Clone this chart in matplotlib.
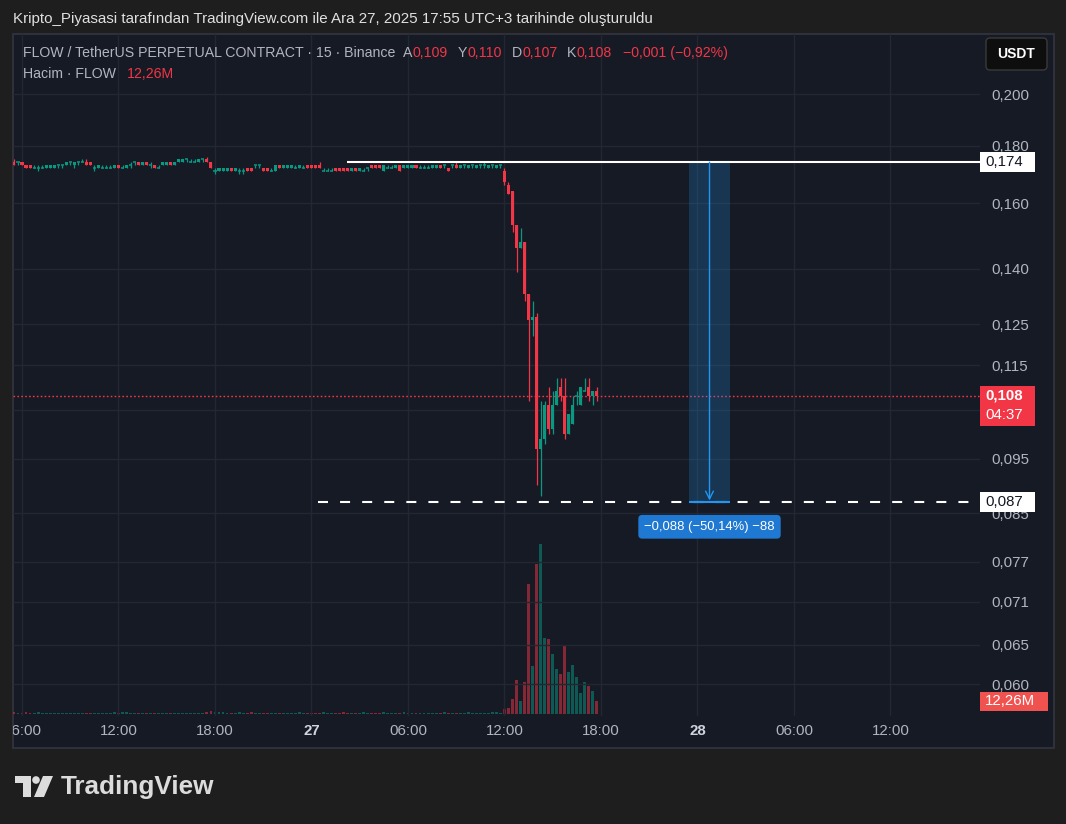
import matplotlib
matplotlib.use("Agg")
import numpy as np
import matplotlib.pyplot as plt
from matplotlib.patches import Rectangle, FancyBboxPatch, Polygon, Circle
from matplotlib.transforms import IdentityTransform, blended_transform_factory
from matplotlib.ticker import NullLocator

plt.rcParams['font.family'] = ['Liberation Sans', 'DejaVu Sans']

W, H = 1066, 824

# 15 minute candles, first one at 26 Dec 05:30 (hours counted from 26 Dec 00:00)
start_hour = 5.5
# prices in thousandths of USDT
opens = [174, 174, 174, 173, 173, 172, 172, 172, 172, 172,
         172, 173, 173, 173, 174, 173, 174, 174, 174, 174,
         172, 172, 172, 172, 172, 172, 173, 172, 172, 173,
         174, 174, 173, 174, 173, 173, 172, 173, 173, 174,
         173, 174, 174, 175, 174, 174, 174, 175, 175, 174,
         171, 171, 171, 171, 172, 171, 171, 171, 172, 172,
         173, 173, 172, 172, 171, 171, 173, 172, 172, 172,
         172, 172, 172, 173, 173, 173, 173, 171, 171, 171,
         172, 172, 172, 172, 171, 172, 171, 171, 172, 173,
         173, 173, 171, 172, 172, 172, 173, 172, 172, 172,
         173, 172, 172, 172, 172, 172, 173, 173, 172, 173,
         173, 172, 173, 172, 173, 172, 173, 173, 172, 173,
         172, 173, 171, 166, 164, 153, 146, 148, 133, 126,
         127, 97, 99, 106, 101, 106, 110, 108, 100, 102,
         108, 106, 109, 110, 108, 109]
closes = [173, 174, 173, 172, 172, 172, 172, 172, 173, 173,
          173, 173, 173, 174, 174, 174, 174, 174, 173, 173,
          172, 173, 172, 172, 172, 173, 172, 172, 173, 173,
          174, 173, 174, 173, 173, 172, 172, 174, 174, 173,
          174, 175, 175, 175, 174, 174, 175, 175, 174, 172,
          171, 172, 172, 172, 171, 172, 171, 171, 171, 171,
          173, 173, 171, 171, 171, 173, 172, 173, 173, 173,
          172, 173, 172, 172, 172, 172, 172, 171, 171, 171,
          171, 171, 171, 171, 172, 171, 172, 171, 172, 172,
          172, 172, 173, 172, 172, 173, 171, 173, 173, 173,
          172, 172, 172, 172, 173, 173, 172, 173, 171, 173,
          172, 173, 173, 173, 173, 173, 173, 173, 173, 173,
          173, 173, 167, 163, 153, 146, 148, 133, 126, 127,
          97, 99, 106, 101, 106, 109, 108, 100, 104, 106,
          108, 110, 109, 108, 109, 108]
highs = [175, 174, 174, 173, 173, 173, 173, 173, 173, 173,
         173, 173, 173, 174, 174, 174, 174, 175, 175, 174,
         173, 173, 173, 173, 173, 173, 173, 173, 173, 174,
         174, 174, 174, 174, 174, 173, 173, 174, 174, 174,
         174, 175, 175, 175, 175, 175, 175, 175, 176, 174,
         172, 172, 172, 172, 172, 172, 172, 172, 172, 172,
         173, 173, 172, 172, 172, 173, 173, 173, 173, 173,
         173, 173, 173, 173, 173, 173, 174, 172, 172, 172,
         172, 172, 172, 172, 172, 172, 172, 172, 172, 173,
         173, 173, 173, 173, 173, 173, 173, 173, 173, 173,
         173, 173, 173, 173, 173, 173, 173, 173, 172, 173,
         174, 173, 173, 173, 173, 173, 173, 174, 173, 173,
         173, 173, 172, 167, 164, 153, 152, 148, 133, 131,
         128, 107, 107, 110, 109, 112, 112, 112, 104, 108,
         109, 110, 112, 112, 109, 110]
lows = [173, 173, 173, 172, 172, 172, 171, 172, 172, 172,
        172, 172, 172, 173, 173, 172, 173, 174, 173, 173,
        171, 172, 172, 172, 172, 172, 172, 172, 172, 172,
        173, 173, 173, 173, 172, 172, 172, 173, 173, 173,
        173, 174, 174, 174, 174, 174, 174, 174, 174, 172,
        170, 171, 171, 171, 171, 171, 170, 170, 171, 171,
        172, 172, 171, 171, 171, 171, 172, 172, 172, 172,
        172, 172, 172, 172, 172, 172, 172, 171, 171, 171,
        171, 171, 171, 171, 171, 171, 171, 171, 171, 172,
        172, 172, 171, 172, 172, 172, 171, 172, 172, 172,
        172, 172, 172, 172, 172, 172, 172, 172, 171, 172,
        172, 172, 172, 172, 172, 172, 172, 172, 172, 172,
        172, 172, 166, 163, 151, 139, 146, 131, 107, 122,
        90, 88, 98, 100, 100, 106, 107, 99, 100, 102,
        106, 106, 109, 107, 106, 107]
# volume in millions FLOW
volumes = [1.7, 0.6, 1.0, 2.2, 1.0, 0.7, 1.8, 1.0, 0.8, 0.8,
           0.9, 0.8, 0.9, 0.8, 0.9, 0.8, 1.0, 0.8, 0.9, 0.9,
           0.9, 0.8, 1.0, 0.8, 0.9, 1.7, 1.0, 1.8, 1.9, 0.8,
           0.8, 0.8, 0.9, 0.8, 0.9, 0.8, 0.8, 1.0, 0.8, 0.8,
           0.9, 0.8, 1.0, 0.9, 0.8, 0.9, 0.8, 0.9, 2.2, 3.1,
           1.9, 1.9, 1.9, 0.9, 0.8, 0.8, 1.8, 0.9, 0.8, 1.7,
           0.8, 1.0, 0.9, 0.8, 1.0, 0.9, 1.0, 0.8, 1.1, 0.9,
           0.8, 2.0, 1.0, 0.8, 1.0, 0.8, 0.9, 1.8, 0.8, 1.0,
           0.8, 0.9, 1.7, 0.9, 0.8, 1.0, 0.9, 1.6, 0.8, 1.0,
           0.9, 0.8, 1.9, 0.8, 0.9, 1.0, 0.8, 1.8, 0.9, 0.8,
           0.9, 1.0, 0.8, 0.9, 0.8, 0.9, 1.0, 1.6, 0.9, 0.8,
           1.0, 0.9, 0.8, 1.7, 1.0, 0.8, 0.9, 1.0, 1.2, 1.7,
           1.6, 0.7, 4.5, 5.5, 14.2, 32.5, 12.3, 30.6, 125.2, 46.0,
           144.5, 163.8, 73.0, 72.1, 57.6, 43.1, 38.3, 65.3, 40.2, 47.0,
           35.4, 20.0, 30.6, 26.7, 21.9, 12.26]

price_ticks = [0.060, 0.065, 0.071, 0.077, 0.085, 0.095, 0.105, 0.115,
               0.125, 0.140, 0.160, 0.180, 0.200]
# 0,105 sits under the live price tag, so its label is not shown
price_labels = ["0,060", "0,065", "0,071", "0,077", "0,085", "0,095", "",
                "0,115", "0,125", "0,140", "0,160", "0,180", "0,200"]
time_ticks = [6, 12, 18, 24, 30, 36, 42, 48, 54, 60]
time_labels = ["06:00", "12:00", "18:00", "27", "06:00", "12:00", "18:00",
               "28", "06:00", "12:00"]

level_top = 0.174
level_bottom = 0.087

GREEN = '#089981'
RED = '#f23645'
GRAY = '#b2b5be'
BG = '#161a25'
FS = 10.2

fig = plt.figure(figsize=(W / 100, H / 100), dpi=100, facecolor='#1e1e1e')
renderer = fig.canvas.get_renderer()


def fx(x):
    return x / W


def fy(y):
    return 1 - y / H


def txt(x, y, s, **kw):
    kw.setdefault('va', 'center')
    kw.setdefault('ha', 'left')
    return fig.text(fx(x), fy(y), s, **kw)


def width_px(t):
    return t.get_window_extent(renderer).width


# chart panel
panel = Rectangle((fx(13), fy(748)), fx(1054) - fx(13), fy(34) - fy(748),
                  transform=fig.transFigure, facecolor=BG, edgecolor='#2e313b',
                  lw=1.5, zorder=-10)
fig.add_artist(panel)

ax = fig.add_axes([fx(13), fy(716), fx(980) - fx(13), fy(34) - fy(716)])
ax.set_facecolor('none')
ax.set_yscale('log')
ax.set_ylim(0.05621, 0.22605)
ax.set_xlim(5.44, 65.57)
for s in ax.spines.values():
    s.set_visible(False)
ax.set_yticks(price_ticks)
ax.yaxis.set_minor_locator(NullLocator())
ax.set_yticklabels(price_labels)
ax.yaxis.tick_right()
ax.tick_params(axis='y', length=0, pad=8.5, labelcolor=GRAY, labelsize=10.8)
ax.set_xticks(time_ticks)
ax.set_xticklabels([])
ax.tick_params(axis='x', length=0)
ax.grid(True, color='#232733', lw=1)
ax.set_axisbelow(True)

# volume overlay
vax = fig.add_axes([fx(13), fy(714), fx(980) - fx(13), 200 / H], zorder=-1)
vax.set_facecolor('none')
vax.set_xlim(ax.get_xlim())
vax.set_ylim(0, 193)
vax.axis('off')

t = start_hour + 0.25 * np.arange(len(closes))
o = np.array(opens) / 1000
c = np.array(closes) / 1000
hi = np.array(highs) / 1000
lo = np.array(lows) / 1000
up = c >= o
cols = np.where(up, GREEN, RED)

vax.bar(t, volumes, width=0.18, color=[(GREEN if u else RED) for u in up],
        alpha=0.5, linewidth=0)

ax.vlines(t, lo, hi, colors=cols, lw=0.9, zorder=3)
blo = np.minimum(o, c)
bhi = np.maximum(o, c)
ax.bar(t, bhi - blo, bottom=blo, width=0.19, color=cols, linewidth=0, zorder=4)
doji = o == c
ax.hlines(c[doji], t[doji] - 0.095, t[doji] + 0.095, colors=cols[doji], lw=1.1, zorder=4)

# drawings
ax.hlines(level_top, 26.2, 65.57, colors='white', lw=1.5, zorder=5)
ax.hlines(level_bottom, 24.4, 65.57, colors='white', lw=1.5,
          linestyles=(0, (4.8, 5.8)), zorder=5)
ax.axhline(c[-1], color=RED, lw=1, linestyle=(0, (1.2, 1.6)), zorder=2)

ax.add_patch(Rectangle((47.5, level_bottom), 2.5, level_top - level_bottom,
                       facecolor='#2196f3', alpha=0.22, lw=0, zorder=2))
ax.hlines(level_bottom, 47.5, 50.0, colors='#2196f3', lw=1.5, zorder=6)
ax.annotate('', xy=(48.75, level_bottom * 1.003), xytext=(48.75, level_top),
            arrowprops=dict(arrowstyle='->', color='#2196f3', lw=1,
                            shrinkA=0, shrinkB=0, mutation_scale=14), zorder=6)
ax.text(48.75, 0.0827, "−0,088 (−50,14%) −88", ha='center', va='center',
        color='white', fontsize=9.4,
        bbox=dict(boxstyle='round,pad=0.45,rounding_size=0.3', fc='#1f78d1', ec='none'),
        zorder=7)

# time axis labels
bt = blended_transform_factory(ax.transData, ax.transAxes)
for h_, lab in zip(time_ticks, time_labels):
    bold = lab in ("27", "28")
    tx = ax.text(h_, -0.022, lab, transform=bt, ha='center', va='center',
                 fontsize=10.8, color='#d1d4dc' if bold else GRAY,
                 fontweight='bold' if bold else 'normal', clip_on=True)
    tx.set_clip_path(panel)

# right side price tags
x_edge = ax.bbox.x1


def tag(ydisp, lines, fc, tc, w, h, dy=0):
    fig.add_artist(Rectangle((x_edge, ydisp - h / 2 + dy), w, h,
                             transform=IdentityTransform(), facecolor=fc,
                             edgecolor='none', zorder=5))
    for i, (s, wt) in enumerate(lines):
        fig.text(x_edge + 5, ydisp - i * 19, s, transform=IdentityTransform(),
                 ha='left', va='center', color=tc, fontsize=10.8, fontweight=wt, zorder=6)


tag(ax.transData.transform((30, level_top))[1], [("0,174", 'normal')], 'white', '#131722', 55, 20)
tag(ax.transData.transform((30, level_bottom))[1], [("0,087", 'normal')], 'white', '#131722', 55, 20)
tag(ax.transData.transform((30, c[-1]))[1], [("0,108", 'bold'), ("04:37", 'normal')],
    RED, 'white', 55, 40, dy=-10)
tag(vax.transData.transform((t[-1], volumes[-1]))[1], [("12,26M", 'normal')],
    '#f0524f', 'white', 68, 19)

# USDT button
fig.add_artist(FancyBboxPatch((986, H - 70), 61, 32, boxstyle='round,pad=0,rounding_size=4',
                              transform=IdentityTransform(), facecolor='#0e0e0e',
                              edgecolor='#3a3a3a', lw=1, zorder=5))
fig.text(1016.5, H - 54, "USDT", transform=IdentityTransform(), ha='center', va='center',
         color='white', fontsize=10, fontweight='bold', zorder=6)

# texts
txt(13, 19, "Kripto_Piyasasi tarafından TradingView.com ile Ara 27, 2025 17:55 UTC+3 tarihinde oluşturuldu",
    color='#e0e0e0', fontsize=10.9)
txt(23, 53, "FLOW / TetherUS PERPETUAL CONTRACT · 15 · Binance", color=GRAY, fontsize=FS)
for x_, letter, val in [(403, "A", "0,109"), (458, "Y", "0,110"),
                        (512, "D", "0,107"), (567, "K", "0,108")]:
    lt = txt(x_, 53, letter, color=GRAY, fontsize=FS)
    txt(x_ + width_px(lt) + 0.5, 53, val, color=RED, fontsize=FS)
txt(623, 53, "−0,001 (−0,92%)", color=RED, fontsize=FS)
txt(23, 74, "Hacim · FLOW", color=GRAY, fontsize=FS)
txt(127, 74, "12,26M", color=RED, fontsize=FS)

# TradingView logo
LOGO = '#dcdcdc'
fig.add_artist(Polygon([(15, H - 776), (31, H - 776), (31, H - 797), (23, H - 797),
                        (23, H - 783), (15, H - 783)], closed=True,
                       transform=IdentityTransform(), facecolor=LOGO, edgecolor='none'))
fig.add_artist(Circle((36, H - 780), 3.8, transform=IdentityTransform(),
                      facecolor=LOGO, edgecolor='none'))
fig.add_artist(Polygon([(43, H - 776), (53, H - 776), (44, H - 797), (34, H - 797)], closed=True,
                       transform=IdentityTransform(), facecolor=LOGO, edgecolor='none'))
txt(61, 787, "TradingView", color=LOGO, fontsize=18.8, fontweight='bold')

fig.savefig("out.png", dpi=100, facecolor=fig.get_facecolor())
